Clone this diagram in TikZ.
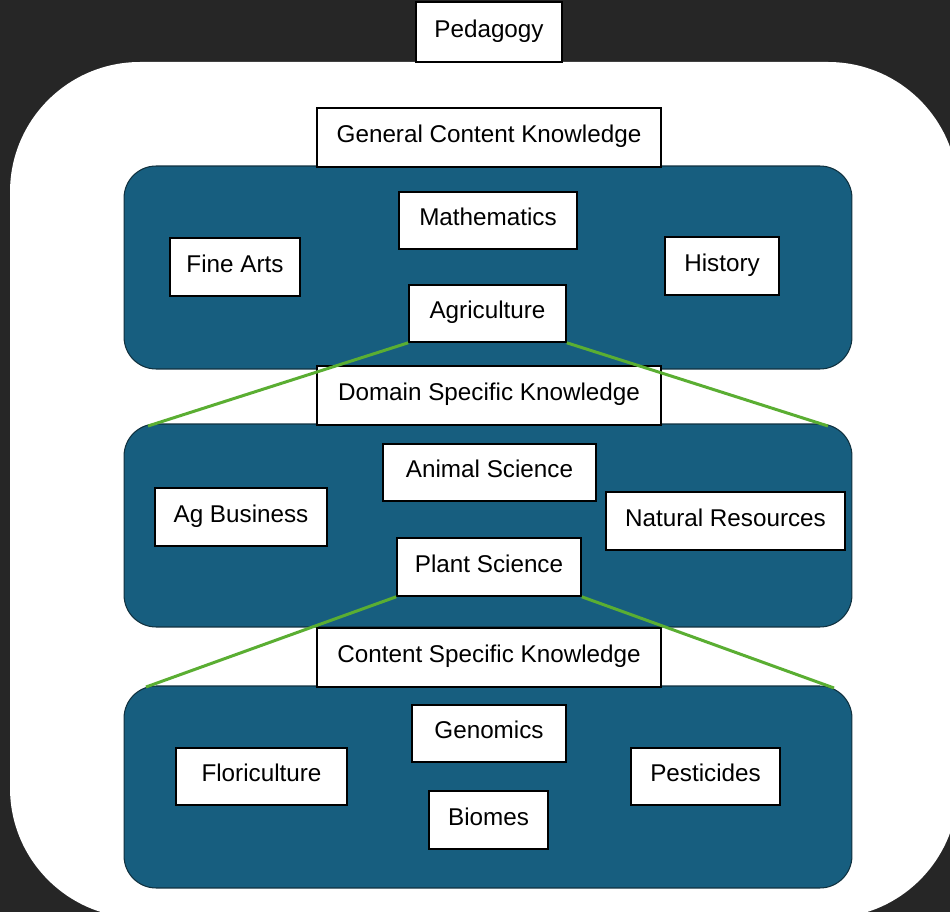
\documentclass[tikz,border=0pt]{standalone}
\usepackage{fontspec}
\setmainfont{Liberation Sans}

\definecolor{bgdark}{HTML}{262626}
\definecolor{panelblue}{HTML}{175E7F}
\definecolor{paneledge}{HTML}{10313F}
\definecolor{linkgreen}{HTML}{5AAE32}

\tikzset{
  panel/.style={draw=paneledge, line width=0.6pt, fill=panelblue, rounded corners=0.64cm, minimum width=14.56cm},
  txtbox/.style={draw=black, line width=0.9pt, fill=white, inner sep=0pt,
    text height=10pt, text depth=4pt, font=\fontsize{13.8}{16}\selectfont},
  link/.style={draw=linkgreen, line width=1.7pt}
}

\begin{document}
\begin{tikzpicture}[x=0.02cm, y=-0.02cm]  % one unit = one pixel of the reference

  \useasboundingbox (0,0) rectangle (950,912);
  \fill[bgdark] (0,0) rectangle (950,912);
  \begin{scope}
    \clip (0,0) rectangle (950,912);
    \fill[white, rounded corners=2.6cm] (10,62) rectangle (958,918); % pedagogy frame
  \end{scope}

  \node (pedagogy) [txtbox, minimum width=2.92cm, minimum height=1.2cm] at (489,32) {Pedagogy};

  % general content knowledge
  \node (generalpanel) [panel, minimum height=4.06cm] at (488,267.5) {};
  \node (general) [txtbox, minimum width=6.88cm, minimum height=1.18cm] at (489,137.5) {General Content Knowledge};
  \node (math) [txtbox, minimum width=3.56cm, minimum height=1.14cm] at (488,220.5) {Mathematics};
  \node (finearts) [txtbox, minimum width=2.6cm, minimum height=1.16cm] at (235,267) {Fine Arts};
  \node (history) [txtbox, minimum width=2.28cm, minimum height=1.16cm] at (722,266) {History};
  \node (agri) [txtbox, minimum width=3.14cm, minimum height=1.14cm] at (487.5,313.5) {Agriculture};

  % domain specific knowledge
  \node (domainpanel) [panel, minimum height=4.06cm] at (488,525.5) {};
  \node (domain) [txtbox, minimum width=6.88cm, minimum height=1.18cm] at (489,395.5) {Domain Specific Knowledge};
  \node (animal) [txtbox, minimum width=4.26cm, minimum height=1.14cm] at (489.5,472.5) {Animal Science};
  \node (agbusiness) [txtbox, minimum width=3.44cm, minimum height=1.16cm] at (241,517) {Ag Business};
  \node (natural) [txtbox, minimum width=4.78cm, minimum height=1.16cm] at (725.5,521) {Natural Resources};
  \node (plant) [txtbox, minimum width=3.68cm, minimum height=1.16cm] at (489,567) {Plant Science};

  % content specific knowledge
  \node (contentpanel) [panel, minimum height=4.04cm] at (488,787) {};
  \node (content) [txtbox, minimum width=6.88cm, minimum height=1.18cm] at (489,657.5) {Content Specific Knowledge};
  \node (genomics) [txtbox, minimum width=3.08cm, minimum height=1.14cm] at (489,733.5) {Genomics};
  \node (flori) [txtbox, minimum width=3.42cm, minimum height=1.14cm] at (261.5,776.5) {Floriculture};
  \node (pesticides) [txtbox, minimum width=2.98cm, minimum height=1.14cm] at (705.5,776.5) {Pesticides};
  \node (biomes) [txtbox, minimum width=2.38cm, minimum height=1.16cm] at (488.5,820) {Biomes};

  \coordinate (domainleft) at (148,426);
  \coordinate (domainright) at (828,426);
  \coordinate (contentleft) at (146,687);
  \coordinate (contentright) at (834,688);

  \draw[link] (agri.south west) -- (domainleft);
  \draw[link] (agri.south east) -- (domainright);
  \draw[link] (plant.south west) -- (contentleft);
  \draw[link] (plant.south east) -- (contentright);
\end{tikzpicture}
\end{document}
